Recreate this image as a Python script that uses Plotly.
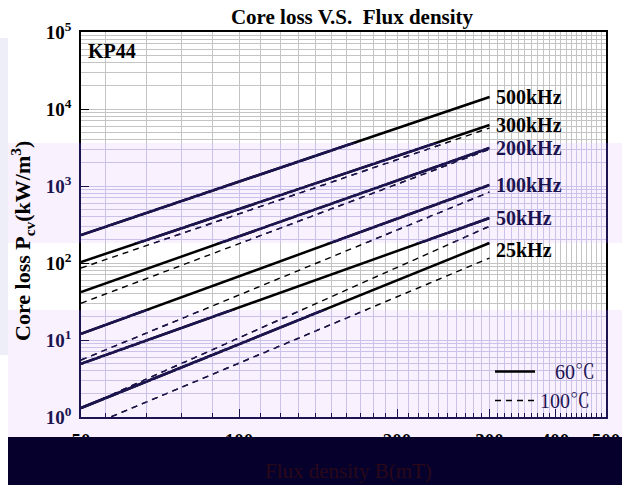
import math
import plotly.graph_objects as go

# ---------------- data ----------------
flux_density_mT = [50, 300]

loss_60C_500kHz = [231, 14300]
loss_60C_300kHz = [103, 6190]
loss_60C_200kHz = [42, 3120]
loss_60C_100kHz = [12, 1030]
loss_60C_50kHz = [4.9, 384]
loss_60C_25kHz = [1.31, 182]

loss_100C_500kHz = [231, 14300]
loss_100C_300kHz = [86, 5670]
loss_100C_200kHz = [30, 3000]
loss_100C_100kHz = [5.5, 836]
loss_100C_50kHz = [1.3, 300]
loss_100C_25kHz = [0.69, 116]

frequency_labels = ["500kHz", "300kHz", "200kHz", "100kHz", "50kHz", "25kHz"]
temperature_labels = ["60℃", "100℃"]

x_tick_vals = [50, 100, 200, 300, 400, 500]
x_tick_text = ["50", "100", "200", "300", "400", "500"]
y_tick_vals = [1, 10, 100, 1000, 10000, 100000]
y_tick_text = ["10<sup>0</sup>", "10<sup>1</sup>", "10<sup>2</sup>",
               "10<sup>3</sup>", "10<sup>4</sup>", "10<sup>5</sup>"]
x_grid_vals = [55.6, 66.7, 77.8, 88.9] + [v for v in range(110, 500, 10) if v not in (200, 300, 400)]
y_grid_vals = [k * 10 ** e for e in range(5) for k in range(2, 10)]

series_60C = [loss_60C_500kHz, loss_60C_300kHz, loss_60C_200kHz,
              loss_60C_100kHz, loss_60C_50kHz, loss_60C_25kHz]
series_100C = [loss_100C_500kHz, loss_100C_300kHz, loss_100C_200kHz,
               loss_100C_100kHz, loss_100C_50kHz, loss_100C_25kHz]

# ---------------- layout geometry (pixels) ----------------
W, H = 631, 485
PL, PR, PT, PB = 81, 606, 32, 417
BAND_A = (143, 243)
BAND_B = (310, 437)
SERIF = "Liberation Serif, Times New Roman, Noto Serif CJK SC, Noto Sans CJK SC, serif"
BLACK = "#000000"
NAVY = "#1c1450"
GRID = "#c4c4c4"
GRID_P = "#cbc2ea"
LAV = "#f9f1fd"


def fx(px):
    return (px - PL) / (PR - PL)


def fy(py):
    return (PB - py) / (PB - PT)


def py_of(v):
    return PT + (5 - math.log10(v)) * (PB - PT) / 5


def in_band(py):
    return BAND_A[0] <= py <= BAND_A[1] or BAND_B[0] <= py <= BAND_B[1]


fig = go.Figure()

subplots = [("x", "y", BLACK), ("x2", "y2", NAVY), ("x3", "y3", NAVY)]
for xa, ya, col in subplots:
    for i, ys in enumerate(series_60C):
        fig.add_trace(go.Scatter(
            x=flux_density_mT, y=ys, mode="lines", xaxis=xa, yaxis=ya,
            line=dict(color=col, width=2.5),
            name="\u2002 " + temperature_labels[0],
            showlegend=(xa == "x" and i == 0), hoverinfo="skip"))
    for i, ys in enumerate(series_100C):
        fig.add_trace(go.Scatter(
            x=flux_density_mT, y=ys, mode="lines", xaxis=xa, yaxis=ya,
            line=dict(color=col, width=1.4, dash="6px,5px"),
            name=temperature_labels[1],
            showlegend=(xa == "x" and i == 0), hoverinfo="skip"))

xrange = [math.log10(50), math.log10(500)]
tickfont_black = dict(family=SERIF, size=19, color=BLACK, weight="bold")
tickfont_navy = dict(family=SERIF, size=19, color=NAVY, weight="bold")


def yt(vals_filter):
    v = [t for t, s in zip(y_tick_vals, y_tick_text) if vals_filter(py_of(t))]
    s = [s for t, s in zip(y_tick_vals, y_tick_text) if vals_filter(py_of(t))]
    return v, s


main_yv, main_yt = yt(lambda p: not in_band(p))
a_yv, a_yt = yt(lambda p: BAND_A[0] <= p <= BAND_A[1])
b_yv, b_yt = yt(lambda p: BAND_B[0] <= p <= BAND_B[1])

layout_axes = dict(
    xaxis=dict(type="log", range=xrange, domain=[0, 1], anchor="y",
               showline=True, linecolor=BLACK, linewidth=1.5, mirror=True,
               ticks="inside", ticklen=8, tickwidth=1.2, tickcolor=BLACK,
               tickvals=x_tick_vals, ticktext=x_tick_text, tickfont=tickfont_black,
               ticklabelstandoff=5,
               showgrid=True, gridcolor=GRID, gridwidth=1, zeroline=False,
               minor=dict(tickvals=x_grid_vals, ticks="inside", ticklen=4,
                          tickcolor=BLACK, showgrid=True, gridcolor=GRID, gridwidth=1)),
    yaxis=dict(type="log", range=[0, 5], domain=[0, 1], anchor="x",
               showline=True, linecolor=BLACK, linewidth=1.5, mirror=True,
               ticks="inside", ticklen=8, tickwidth=1.2, tickcolor=BLACK,
               tickvals=main_yv, ticktext=main_yt, tickfont=tickfont_black,
               ticklabelstandoff=4,
               showgrid=True, gridcolor=GRID, gridwidth=1, zeroline=False,
               minor=dict(tickvals=y_grid_vals, ticks="", showgrid=True,
                          gridcolor=GRID, gridwidth=1)),
    xaxis2=dict(type="log", range=xrange, domain=[0, 1], anchor="y2",
                showline=False, ticks="", showticklabels=False,
                tickvals=x_tick_vals, showgrid=True, gridcolor=GRID_P, zeroline=False,
                minor=dict(tickvals=x_grid_vals, ticks="", showgrid=True, gridcolor=GRID_P)),
    yaxis2=dict(type="log", range=[5 * fy(BAND_A[1]), 5 * fy(BAND_A[0])],
                domain=[fy(BAND_A[1]), fy(BAND_A[0])], anchor="x2",
                showline=True, linecolor=NAVY, linewidth=1.5, mirror=True,
                ticks="inside", ticklen=8, tickwidth=1.2, tickcolor=NAVY,
                tickvals=a_yv, ticktext=a_yt, tickfont=tickfont_navy,
                ticklabelstandoff=4,
                showgrid=True, gridcolor=GRID_P, zeroline=False,
                minor=dict(tickvals=y_grid_vals, ticks="", showgrid=True, gridcolor=GRID_P)),
    xaxis3=dict(type="log", range=xrange, domain=[0, 1], anchor="y3",
                showline=True, linecolor=NAVY, linewidth=1.5, mirror=False,
                ticks="inside", ticklen=8, tickwidth=1.2, tickcolor=NAVY,
                tickvals=x_tick_vals, showticklabels=False,
                showgrid=True, gridcolor=GRID_P, zeroline=False,
                minor=dict(tickvals=x_grid_vals, ticks="inside", ticklen=4, tickcolor=NAVY,
                           showgrid=True, gridcolor=GRID_P)),
    yaxis3=dict(type="log", range=[0, 5 * fy(BAND_B[0])],
                domain=[0, fy(BAND_B[0])], anchor="x3",
                showline=True, linecolor=NAVY, linewidth=1.5, mirror=True,
                ticks="inside", ticklen=8, tickwidth=1.2, tickcolor=NAVY,
                tickvals=b_yv, ticktext=b_yt, tickfont=tickfont_navy,
                ticklabelstandoff=4,
                showgrid=True, gridcolor=GRID_P, zeroline=False,
                minor=dict(tickvals=y_grid_vals, ticks="", showgrid=True, gridcolor=GRID_P)),
)

annotations = []
label_yshift = [0, 0, 0, 0, 0, -7]
for lbl, ys, dy in zip(frequency_labels, series_60C, label_yshift):
    p = py_of(ys[-1]) - dy
    annotations.append(dict(
        text=lbl, xref="paper", yref="y", x=fx(494), y=math.log10(ys[-1]),
        xanchor="left", yanchor="middle", yshift=dy, showarrow=False,
        font=dict(family=SERIF, size=20, color=NAVY if in_band(p) else BLACK, weight="bold")))

annotations.append(dict(text="KP44", xref="paper", yref="paper", x=fx(86), y=fy(51),
                        xanchor="left", yanchor="middle", showarrow=False,
                        font=dict(family=SERIF, size=20, color=BLACK, weight="bold")))
annotations.append(dict(text="Core loss P<sub>cv</sub>(kW/m<sup>3</sup>)", xref="paper", yref="paper",
                        x=fx(22), y=fy(241), textangle=-90, xanchor="center", yanchor="middle",
                        showarrow=False,
                        font=dict(family=SERIF, size=22, color=BLACK, weight="bold")))
annotations.append(dict(text="Flux density B(mT)", xref="paper", yref="paper",
                        x=fx(348), y=fy(471), xanchor="center", yanchor="middle",
                        showarrow=False,
                        font=dict(family=SERIF, size=21, color="#2a0818")))

shapes = [
    dict(type="rect", xref="paper", yref="paper", layer="below",
         x0=fx(0), x1=fx(8), y0=fy(355), y1=fy(38), fillcolor="#eeeef8", line=dict(width=0)),
    dict(type="rect", xref="paper", yref="paper", layer="below",
         x0=fx(8), x1=fx(622), y0=fy(BAND_A[1]), y1=fy(BAND_A[0]), fillcolor=LAV, line=dict(width=0)),
    dict(type="rect", xref="paper", yref="paper", layer="below",
         x0=fx(8), x1=fx(622), y0=fy(BAND_B[1]), y1=fy(BAND_B[0]), fillcolor=LAV, line=dict(width=0)),
    dict(type="rect", xref="paper", yref="paper", layer="above",
         x0=fx(8), x1=fx(622), y0=fy(490), y1=fy(BAND_B[1]), fillcolor="#06012c", line=dict(width=0)),
]

fig.update_layout(
    width=W, height=H, autosize=False,
    margin=dict(l=PL, r=W - PR, t=PT, b=H - PB, pad=0),
    paper_bgcolor="white", plot_bgcolor="rgba(0,0,0,0)",
    title=dict(text="Core loss V.S.\u00a0 Flux density", x=352 / W, xanchor="center",
               y=1 - 17 / H, yanchor="middle", xref="container", yref="container",
               font=dict(family=SERIF, size=21, color=BLACK, weight="bold")),
    showlegend=True,
    legend=dict(x=fx(490), xanchor="left", y=fy(352), yanchor="top",
                bgcolor="rgba(0,0,0,0)", borderwidth=0, itemwidth=40,
                font=dict(family=SERIF, size=20, color=NAVY)),
    annotations=annotations, shapes=shapes,
    **layout_axes,
)

fig.write_html("out.html", config={"displayModeBar": False},
               post_script="document.body.style.margin='0';document.body.style.overflow='hidden';")
